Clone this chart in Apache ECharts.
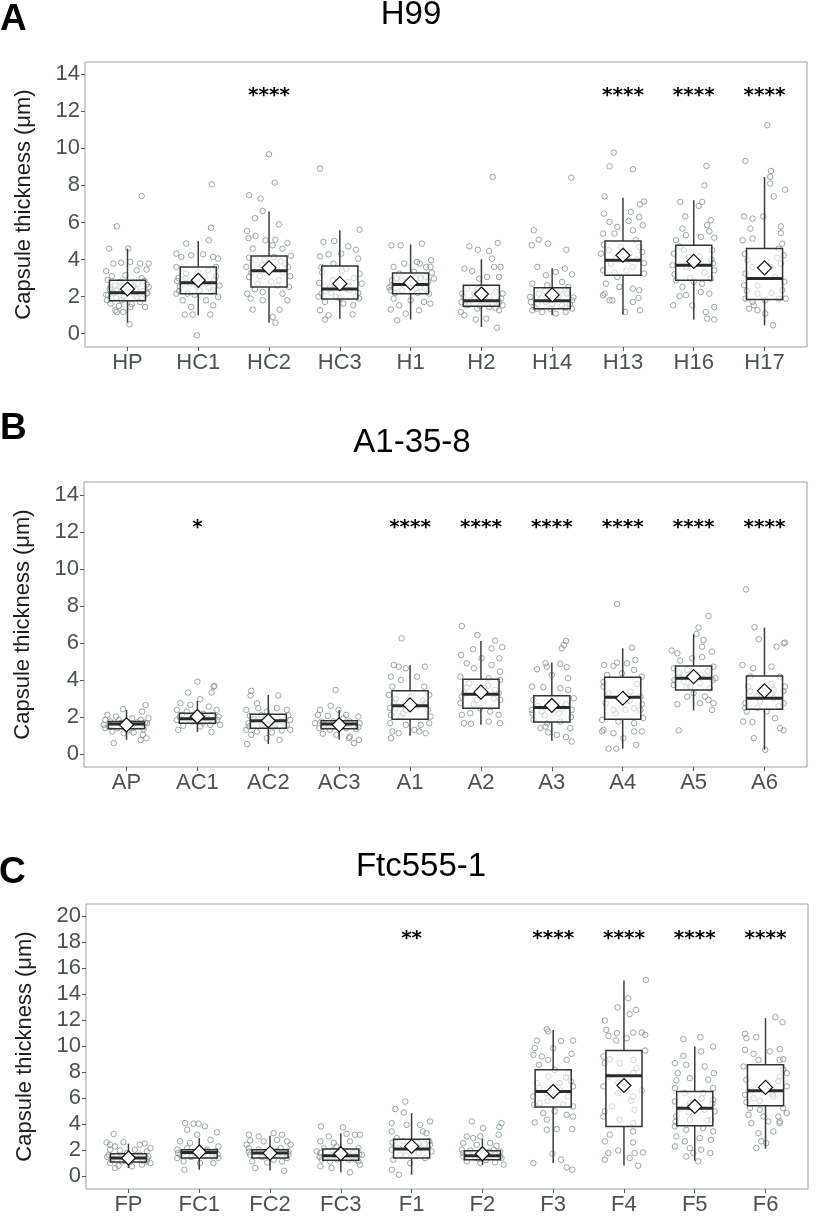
<!DOCTYPE html>
<html>
<head>
<meta charset="utf-8">
<script src="https://cdn.jsdelivr.net/npm/echarts@6/dist/echarts.min.js"></script>
<style>html,body{margin:0;padding:0;background:#fff}#c{width:816px;height:1222px}</style>
</head>
<body>
<div id="c"></div>
<script>
// ---------------- Panel A: H99 ----------------
const catsA = ['HP','HC1','HC2','HC3','H1','H2','H14','H13','H16','H17'];
// [lower whisker, Q1, median, Q3, upper whisker]
const statsA = [
  [0.60,1.78,2.21,2.88,4.59],[0.99,2.16,2.75,3.60,5.00],[0.59,2.52,3.40,4.19,6.59],
  [0.81,1.87,2.41,3.65,5.58],[0.76,2.16,2.65,3.28,4.82],[0.36,1.48,1.78,2.61,4.01],
  [0.99,1.35,1.78,2.48,3.53],[1.04,3.15,3.96,5.00,7.34],[0.76,2.88,3.69,4.77,7.20],
  [0.45,1.85,2.97,4.59,8.46]];
const meansA = [2.41,2.88,3.55,2.70,2.74,2.14,2.09,4.23,3.90,3.55];
const starsA = ['','','****','','','','','****','****','****'];
const starLevelA = 13.0;
const yTicksA = [0,2,4,6,8,10,12,14];
// jittered observations per group: [horizontal jitter (category units), value]
const pointsA = [
 [[.2,7.43],[-.15,5.79],[-.26,4.59],[.01,4.59],[-.2,3.78],[-.3,3.38],[-.09,3.83],[.04,3.87],[.18,3.78],[.3,3.78],[-.22,3.1],[.13,3.42],[.27,3.46],[-.27,2.07],[-.24,1.62],[-.17,1.26],[-.06,1.17],[.04,1.44],[.18,1.71],[.27,2.16],[.25,1.44],[.03,.5],[-.15,2.34],[.08,2.52],[-.1,2.79],[.15,2.7],[-.24,2.52],[.3,2.52],[-.08,1.8],[.13,1.98],[-.29,1.8],[-.03,3.15],[-.15,1.17],[-.2,2.2],[.22,2.3],[-.05,2.0],[.1,2.1],[-.28,2.9],[.2,3.0],[-.12,1.5],[.06,1.6],[-.18,2.6],[.24,2.85],[-.25,2.4],[.28,2.2],[-.1,2.45],[.05,2.7],[.2,1.9],[-.3,2.1],[.12,2.4],[-.16,1.95],[.27,2.65],[-.04,2.3]],
 [[.19,8.06],[.18,5.72],[.15,5.04],[-.17,4.86],[-.02,-.09],[-.08,1.03],[.17,1.03],[-.19,1.03],[-.31,4.32],[-.24,4.14],[-.1,4.23],[.07,4.28],[.21,4.14],[.28,4.05],[-.31,3.6],[-.17,3.24],[.14,3.42],[.25,3.6],[-.26,2.52],[-.15,2.16],[-.05,2.88],[.07,2.7],[.21,2.34],[-.22,1.8],[-.1,1.44],[.11,1.8],[.21,1.53],[.28,1.98],[-.31,2.16],[.02,2.34],[-.12,2.7],[-.28,3.0],[.25,3.1],[0,3.3],[-.05,2.1],[.15,2.5],[-.27,2.3],[.23,2.9],[-.18,3.0],[.09,3.1],[-.02,2.55],[.3,2.6],[-.3,2.85],[.18,2.25]],
 [[0,9.68],[.08,8.15],[-.28,7.47],[-.12,7.29],[-.09,6.62],[-.2,6.23],[.14,5.9],[-.31,5.54],[-.19,5.27],[-.29,5.16],[-.05,5.04],[.09,5.07],[.26,4.89],[-.23,4.59],[.05,4.77],[.19,4.59],[-.32,3.6],[-.19,3.96],[.23,3.78],[-.28,3.06],[-.16,2.7],[.14,2.88],[.28,2.52],[-.31,2.16],[-.09,2.25],[.19,2.16],[-.26,1.89],[.26,1.8],[-.09,1.8],[-.23,1.3],[.15,1.3],[.05,.9],[.09,.59],[-.05,3.42],[.07,4.14],[.2,3.3],[-.1,3.7],[.12,2.6],[-.2,2.4],[.3,3.1],[-.25,3.3],[.27,3.6],[-.13,3.1],[.03,2.8],[.16,3.9],[-.28,4.1],[.31,4.2],[-.06,4.0]],
 [[-.28,8.91],[.28,5.61],[-.23,4.95],[-.08,5.0],[.12,4.71],[.23,4.53],[-.28,4.17],[-.16,4.28],[.02,4.32],[.26,4.05],[-.09,3.78],[-.26,3.6],[.09,3.51],[.28,3.24],[-.29,2.74],[-.14,2.52],[.14,2.34],[.31,2.7],[-.26,2.16],[-.05,1.98],[.23,2.02],[-.21,1.71],[.05,1.62],[.19,1.53],[-.28,1.26],[-.16,.99],[-.21,.76],[.18,1.04],[.09,2.43],[-.1,2.9],[.2,3.0],[-.2,2.3],[0,1.9],[-.3,2.0],[.26,2.2],[-.12,2.2],[.12,2.8],[-.25,3.3],[.03,3.4],[.27,1.9]],
 [[-.27,4.77],[-.14,4.77],[-.19,.72],[-.28,1.3],[.16,4.86],[.29,3.96],[.22,3.6],[.13,3.78],[-.24,3.6],[-.09,3.78],[.09,3.87],[-.26,2.88],[-.12,2.34],[.14,2.52],[.26,2.16],[-.24,1.89],[0,1.8],[.19,1.71],[-.16,1.53],[.28,1.62],[.05,3.33],[-.16,3.24],[.21,3.06],[.28,3.6],[-.28,2.34],[-.07,1.08],[.12,1.26],[-.05,2.79],[.33,2.97],[-.2,3.0],[.1,2.2],[-.02,2.6],[.25,2.8],[-.3,2.5],[-.27,2.6],[.07,3.0],[.2,2.45],[-.13,2.85],[.3,3.3],[-.22,2.2],[.02,2.3],[.14,3.0]],
 [[.16,8.46],[-.17,4.71],[-.05,4.53],[.11,4.46],[.23,4.89],[-.24,3.51],[-.13,3.38],[.15,4.05],[.27,3.6],[.18,3.6],[-.03,2.97],[-.2,2.43],[.08,3.06],[.25,3.06],[-.27,2.16],[-.1,2.16],[.2,2.25],[.3,2.16],[-.29,1.17],[-.22,1.53],[-.06,1.35],[.11,1.44],[.25,1.26],[.3,1.53],[-.08,.76],[.07,.81],[.22,.32],[-.15,1.8],[.04,1.71],[-.24,.99],[-.1,1.9],[.15,1.6],[-.28,1.7],[.28,1.9],[-.25,2.0],[.25,1.7],[-.05,2.4],[.12,2.0],[-.18,1.55],[.2,1.4],[-.02,1.5]],
 [[.27,8.42],[-.26,5.58],[-.19,5.07],[-.06,4.86],[-.29,4.77],[.2,4.53],[-.21,3.6],[.05,3.33],[.18,3.51],[.28,3.2],[-.09,3.15],[-.28,2.7],[-.07,2.61],[.14,2.79],[.23,2.52],[-.31,1.98],[-.19,2.16],[.21,2.16],[.28,1.8],[-.28,1.26],[-.14,1.17],[.05,1.08],[.19,1.17],[.28,1.35],[-.21,1.62],[.14,1.53],[-.02,1.35],[-.09,1.71],[.09,1.98],[-.25,1.45],[.25,1.6],[0,1.6],[-.15,1.9],[-.3,1.7],[.3,1.95],[-.1,2.3],[.12,2.35],[-.22,1.35],[.18,1.4],[.05,1.9]],
 [[-.13,9.77],[-.19,9.03],[.14,8.87],[-.26,7.41],[.3,7.13],[.24,6.98],[-.27,6.48],[.11,6.57],[.23,6.3],[-.19,6.03],[-.08,5.76],[.08,6.08],[-.28,5.4],[.28,5.85],[-.12,5.4],[.14,5.58],[-.31,4.32],[.23,4.68],[-.17,3.78],[.14,3.6],[-.28,3.42],[.3,3.24],[-.08,3.06],[-.24,2.7],[-.05,2.52],[.14,2.43],[.23,2.34],[-.26,2.16],[-.15,1.8],[.14,1.71],[-.19,1.8],[.22,1.93],[.03,1.17],[.24,1.26],[-.28,2.07],[.09,4.32],[-.1,4.05],[.18,5.04],[-.03,4.68],[-.27,4.8],[.27,4.4],[-.12,3.3],[.05,3.4],[.2,4.0],[-.2,4.5],[.3,3.8]],
 [[.18,9.05],[.15,8.0],[-.19,7.11],[.07,6.89],[.12,7.11],[-.12,6.33],[.24,6.12],[.19,5.85],[.22,5.52],[-.16,5.67],[-.25,5.04],[.1,5.22],[.29,5.18],[-.11,5.31],[-.28,4.32],[-.14,4.5],[.26,4.5],[-.3,3.69],[-.11,3.6],[.29,3.42],[-.25,2.88],[-.16,2.52],[.12,2.7],[.24,2.97],[-.2,2.02],[-.11,2.07],[.1,2.25],[.22,2.16],[-.29,1.53],[-.02,1.53],[.29,1.44],[.17,1.17],[.19,.81],[.29,.76],[-.07,4.14],[.08,4.14],[-.27,3.2],[.27,3.8],[-.05,3.0],[.15,3.3],[-.2,4.7],[.25,4.0],[0,2.8]],
 [[.04,11.25],[-.27,9.32],[.09,8.78],[.08,8.46],[.08,8.1],[.13,7.41],[.29,7.77],[-.29,6.33],[-.17,6.21],[-.02,6.33],[-.2,5.67],[.23,5.79],[.23,5.43],[-.31,5.04],[-.17,5.13],[.25,4.86],[.2,4.59],[.27,4.23],[-.24,3.96],[.08,3.6],[-.27,3.24],[.15,3.06],[-.29,2.61],[-.1,2.16],[.25,2.34],[-.27,1.89],[-.17,1.71],[.01,1.8],[.2,1.89],[.3,1.89],[-.22,1.35],[-.1,1.26],[.01,1.08],[.12,.45],[-.15,1.53],[.23,3.78],[-.17,3.6],[-.28,4.3],[.28,2.8],[-.1,2.6],[.1,2.2],[-.25,2.3],[.18,4.1],[.03,3.9]]
];

// ---------------- Panel B: A1-35-8 ----------------
const catsB = ['AP','AC1','AC2','AC3','A1','A2','A3','A4','A5','A6'];
const statsB = [
  [0.77,1.37,1.62,1.76,2.39],[1.19,1.67,1.91,2.21,2.88],[0.54,1.40,1.80,2.16,3.20],
  [0.77,1.37,1.62,1.80,2.39],[0.99,1.89,2.61,3.42,4.82],[1.58,2.48,3.24,4.05,6.12],
  [0.72,1.73,2.52,3.15,4.95],[0.29,1.89,3.08,4.16,5.72],[2.36,3.47,4.10,4.77,6.48],
  [0.23,2.43,3.02,4.23,6.84]];
const meansB = [1.58,2.03,1.80,1.58,2.66,3.35,2.63,3.02,4.19,3.42];
const starsB = ['','*','','','****','****','****','****','****','****'];
const starLevelB = 12.42;
const yTicksB = [0,2,4,6,8,10,12,14];
const pointsB = [
 [[-.18,.59],[-.3,1.4],[-.05,2.43],[.27,2.65],[.22,2.3],[-.27,2.12],[-.15,2.03],[.08,1.94],[.2,1.85],[-.23,1.76],[-.08,1.67],[.15,1.71],[.29,1.67],[-.25,1.49],[-.13,1.4],[.08,1.4],[.24,1.35],[-.2,1.22],[-.04,1.13],[.1,1.17],[.23,1.04],[.2,.77],[.28,.86],[-.32,1.58],[.31,1.94],[-.11,1.85],[.01,1.28],[-.22,1.55],[.18,1.55],[-.05,1.7],[.1,1.6],[.26,1.7],[-.3,1.85],[.02,1.5]],
 [[0,3.92],[.23,3.65],[.24,3.69],[.2,3.33],[-.13,3.33],[.04,2.97],[-.24,2.75],[-.1,2.66],[.16,2.57],[-.29,2.39],[-.15,2.3],[.27,2.39],[-.22,2.12],[.08,2.18],[.3,2.03],[-.29,1.85],[-.08,1.76],[.23,1.76],[-.2,1.53],[.04,1.49],[.18,1.58],[-.27,1.31],[.2,1.19],[-.03,1.94],[.13,1.94],[.32,1.58],[-.25,2.0],[.2,2.1],[-.12,1.85],[.08,1.7],[.28,1.85],[-.02,2.2]],
 [[-.24,3.42],[-.25,3.17],[.14,3.17],[-.16,2.75],[-.31,2.39],[-.14,2.48],[.12,2.48],[.26,2.39],[-.26,2.07],[-.02,2.3],[.19,2.03],[.31,1.85],[-.28,1.67],[-.09,1.58],[.09,1.49],[.26,1.58],[-.31,1.31],[-.16,1.22],[.05,1.17],[.19,1.28],[.31,1.31],[-.24,1.04],[-.02,.86],[.16,.77],[-.3,.54],[-.05,1.94],[-.21,1.85],[-.2,1.9],[.2,1.75],[-.1,2.1],[.1,1.6],[.28,2.1],[-.27,1.5]],
 [[-.05,3.47],[-.12,2.61],[-.27,2.39],[-.01,2.39],[-.3,2.12],[-.16,2.07],[.1,2.12],[.27,2.03],[-.25,1.76],[-.08,1.76],[.15,1.76],[.29,1.67],[-.28,1.4],[-.13,1.31],[.1,1.4],[.24,1.35],[-.23,1.1],[-.04,1.04],[.15,.95],[.28,.77],[.14,.86],[.21,.59],[-.2,1.58],[.06,1.94],[-.34,1.67],[-.22,1.5],[.2,1.55],[0,1.5],[-.1,1.65],[.27,1.45],[.12,1.65]],
 [[-.12,6.26],[-.23,4.82],[-.16,4.73],[-.06,4.64],[.21,4.73],[-.27,4.19],[-.13,4.01],[.1,4.19],[.2,3.65],[-.25,3.65],[-.3,3.2],[.27,3.2],[-.23,2.75],[-.06,2.39],[.22,2.75],[-.27,2.12],[-.13,2.03],[.29,2.03],[-.28,1.67],[-.06,1.58],[.15,1.58],[.27,1.67],[-.25,1.22],[-.16,1.13],[.13,1.22],[.22,1.13],[-.27,.86],[.06,1.31],[.01,3.11],[-.2,2.48],[-.2,3.0],[.18,2.9],[-.1,2.2],[.1,2.6],[.25,2.4],[-.28,2.5]],
 [[-.27,6.93],[-.05,6.44],[.2,6.14],[.3,5.78],[-.11,5.67],[.15,5.72],[-.28,5.36],[.01,5.18],[-.2,4.91],[.15,4.82],[.26,5.18],[-.1,4.64],[.27,4.46],[-.29,4.19],[-.17,3.83],[.11,4.1],[.27,4.01],[-.24,3.29],[.2,3.47],[-.29,2.75],[-.06,2.93],[.27,2.93],[-.27,2.12],[-.15,2.21],[.13,2.3],[.25,2.12],[-.24,1.67],[-.14,1.64],[.11,1.76],[.27,1.67],[-.01,2.48],[.04,3.56],[-.2,3.6],[.18,3.0],[-.1,2.7],[.1,3.7],[.25,3.3],[-.27,3.1]],
 [[.2,6.12],[.14,5.72],[.17,5.9],[-.21,4.59],[-.09,4.91],[-.07,4.73],[.12,4.88],[.21,4.7],[0,4.28],[.23,4.1],[-.28,3.65],[-.12,3.62],[.12,3.56],[.23,3.47],[-.26,2.93],[.31,3.02],[-.28,2.39],[-.14,2.3],[.16,2.48],[.28,2.39],[-.26,1.85],[-.07,1.67],[.12,1.76],[.26,1.4],[-.16,1.4],[-.05,1.17],[.07,1.04],[.2,.92],[.28,.68],[-.09,1.49],[.02,2.75],[-.2,2.6],[.2,2.7],[-.1,2.1],[.1,2.2],[.27,2.0],[-.27,2.2]],
 [[-.08,8.12],[.13,5.76],[-.26,4.82],[-.08,4.95],[.06,4.91],[.18,5.09],[-.13,4.77],[-.22,4.28],[-.01,4.37],[.27,4.19],[.16,4.55],[-.27,3.65],[.11,3.38],[.25,3.11],[-.24,2.75],[-.13,2.39],[.16,2.48],[.25,2.39],[-.29,1.85],[-.06,1.76],[.16,1.67],[.29,1.94],[-.27,1.31],[-.13,1.13],[.16,1.22],[.27,1.22],[-.29,1.22],[.01,.86],[.19,.5],[-.2,.29],[-.09,.29],[.04,2.39],[-.2,3.3],[.2,3.8],[-.1,2.2],[.1,2.9],[.27,2.7],[-.27,3.9]],
 [[.21,7.47],[.07,6.84],[.04,6.5],[.14,6.17],[.12,5.81],[-.31,5.6],[-.23,5.45],[.26,5.54],[-.02,5.18],[.12,5.24],[-.19,5.06],[-.28,4.64],[-.09,4.55],[.28,4.73],[-.21,4.19],[.19,4.19],[.31,4.1],[-.28,3.74],[-.05,3.65],[.09,3.83],[.23,3.56],[-.09,3.11],[.16,3.11],[.28,2.75],[-.23,2.7],[.09,2.75],[.21,2.93],[.26,2.39],[-.21,1.28],[-.14,3.92],[0,3.29],[-.2,4.4],[.2,4.5],[-.1,3.6],[.1,4.3],[.27,4.0],[-.27,4.0]],
 [[-.26,8.91],[-.14,6.86],[-.08,6.21],[.17,5.81],[.29,6.03],[.27,5.99],[-.31,4.82],[-.16,4.64],[.1,4.73],[.22,4.19],[-.2,4.19],[-.23,3.65],[.13,3.47],[.29,3.65],[-.27,2.75],[-.06,2.84],[.27,2.75],[-.25,2.3],[.03,2.3],[.15,1.94],[-.3,1.76],[-.17,1.73],[.22,1.4],[.27,1.28],[-.15,.86],[.01,.23],[-.11,3.11],[.13,3.02],[-.2,3.4],[.2,2.6],[-.1,2.5],[.1,3.8],[.27,3.4],[-.27,2.5]]
];

// ---------------- Panel C: Ftc555-1 ----------------
const catsC = ['FP','FC1','FC2','FC3','F1','F2','F3','F4','F5','F6'];
const statsC = [
  [0.64,1.10,1.41,1.74,2.51],[0.51,1.41,1.84,2.05,2.94],[0.46,1.41,1.79,2.05,3.12],
  [0.31,1.23,1.59,2.10,3.32],[0.13,1.41,2.10,2.86,4.86],[0.90,1.28,1.59,1.97,2.89],
  [1.02,5.32,6.52,8.18,11.25],[0.84,3.84,7.72,9.67,15.04],[1.20,3.89,5.24,6.52,9.97],
  [2.12,5.42,6.57,8.57,12.15]];
const meansC = [1.41,1.87,1.79,1.74,2.30,1.74,6.52,6.98,5.37,6.83];
const starsC = ['','','','','**','','****','****','****','****'];
const starLevelC = 18.47;
const yTicksC = [0,2,4,6,8,10,12,14,16,18,20];
const pointsC = [
 [[-.21,3.25],[-.07,2.63],[-.31,2.61],[-.26,2.43],[-.19,2.3],[.16,2.43],[.23,2.51],[.31,2.17],[-.26,2.05],[-.12,1.99],[.09,2.05],[.26,1.92],[-.28,1.66],[-.16,1.59],[.16,1.66],[.28,1.53],[-.23,1.28],[-.09,1.15],[.12,1.28],[.26,1.15],[-.26,1.02],[-.14,.82],[.05,.77],[.19,.9],[.31,1.02],[-.19,.64],[-.02,1.79],[-.22,1.4],[.18,1.45],[-.05,1.2],[.1,1.6],[.26,1.35],[-.3,1.5],[.02,1.1],[-.12,1.45],[.2,1.2]],
 [[-.2,4.09],[-.08,4.04],[-.01,4.04],[-.17,3.58],[.08,3.84],[.25,3.38],[-.03,3.2],[-.27,2.69],[-.13,2.56],[.16,2.81],[.27,2.3],[-.31,2.05],[-.17,2.17],[.11,2.05],[.23,1.92],[-.27,1.66],[-.1,1.53],[.18,1.53],[.27,1.41],[-.22,1.15],[.01,1.02],[.2,1.02],[-.21,.51],[-.31,1.41],[.06,1.79],[-.22,1.85],[.18,1.75],[-.05,1.6],[.1,1.95],[.26,1.7],[-.3,1.8],[.02,2.0],[-.12,1.5]],
 [[-.3,3.2],[-.16,3.07],[.05,3.32],[.17,3.2],[-.28,2.76],[-.09,2.69],[.1,2.81],[.24,2.69],[.29,2.43],[-.3,2.17],[-.16,2.05],[.15,2.17],[.26,1.92],[-.28,1.66],[-.09,1.53],[.1,1.66],[.24,1.41],[-.25,1.15],[-.04,1.07],[.17,1.15],[-.21,.64],[.2,.43],[-.33,2.43],[.05,1.28],[-.22,1.85],[.18,1.75],[-.05,1.6],[.1,1.95],[.26,1.7],[-.3,1.9],[.02,2.0],[-.12,1.5]],
 [[-.28,3.84],[.03,3.76],[-.17,3.07],[.08,3.27],[.2,3.2],[.27,3.2],[-.29,2.69],[-.1,2.56],[.13,2.69],[-.24,2.17],[-.06,2.3],[.25,2.17],[-.29,1.79],[-.1,1.66],[.18,1.79],[.3,1.66],[-.27,1.28],[-.15,1.15],[.11,1.28],[.25,1.15],[-.29,.77],[-.13,.64],[.13,.31],[.27,.9],[-.01,2.05],[-.34,1.92],[-.22,1.45],[.18,1.55],[-.05,1.3],[.1,1.95],[.26,1.7],[-.3,1.5],[.02,1.8],[-.12,2.0],[.2,1.3]],
 [[-.09,5.75],[-.23,5.17],[-.11,4.91],[-.28,4.09],[-.07,3.96],[.12,3.96],[.26,4.22],[.16,3.45],[.21,3.32],[-.28,3.45],[-.21,2.94],[-.12,2.69],[.09,2.56],[-.28,2.05],[.28,1.92],[-.16,1.66],[.19,1.41],[-.26,1.28],[-.28,.51],[-.18,.13],[-.02,1.02],[.26,2.43],[.07,2.3],[-.2,2.2],[.18,2.5],[-.08,1.6],[.1,1.8],[.25,2.7],[-.27,2.6]],
 [[-.15,4.22],[.01,3.71],[.27,4.09],[.24,3.79],[.23,3.2],[-.22,3.07],[-.13,2.94],[-.03,3.07],[-.27,2.56],[-.08,2.43],[.11,2.56],[.2,2.35],[-.29,2.05],[-.17,1.99],[.16,2.05],[.25,1.92],[-.27,1.53],[-.1,1.41],[.08,1.48],[.27,1.41],[-.22,1.15],[-.03,1.02],[.18,1.07],[.3,.9],[.04,1.84],[-.2,1.7],[.18,1.7],[-.05,1.35],[.1,1.9],[.25,1.55],[-.27,1.8],[.05,1.25]],
 [[-.09,11.3],[-.07,11.13],[-.23,10.43],[.11,10.41],[.28,10.43],[-.26,9.85],[-.28,9.34],[-.16,9.21],[-.07,8.95],[.26,9.41],[.19,8.95],[-.2,8.57],[.21,7.93],[-.07,7.67],[-.23,7.16],[.09,7.16],[.28,6.91],[-.28,6.14],[-.09,6.39],[.21,6.14],[-.19,5.63],[.14,5.5],[.28,5.37],[-.14,4.86],[.02,4.99],[.19,4.73],[-.26,4.14],[-.09,4.35],[.28,4.6],[-.09,3.58],[.05,3.63],[.27,3.63],[-.01,1.74],[-.28,1.02],[.11,1.28],[.19,.69],[.27,.51],[0,9.85],[.02,8.18],[-.2,6.8],[.18,7.6],[-.08,5.8],[.1,6.6],[.25,7.3],[-.27,5.5]],
 [[.31,15.09],[.06,13.68],[.17,12.79],[.08,12.46],[-.09,12.97],[-.27,11.97],[-.25,11.25],[-.1,11.0],[-.11,10.43],[.13,11.05],[.25,11.05],[.3,10.87],[-.22,10.79],[.04,10.61],[-.29,9.21],[.3,9.67],[-.27,8.7],[-.06,8.7],[.13,8.95],[-.22,7.67],[.13,7.93],[-.29,6.91],[-.08,6.39],[.13,6.14],[-.17,5.37],[.15,5.12],[-.29,4.6],[-.06,4.35],[.13,4.09],[-.2,3.2],[.13,3.45],[-.27,2.69],[.13,2.61],[-.22,1.79],[-.08,1.99],[.15,1.79],[.27,1.84],[-.27,1.28],[.08,1.41],[.2,.82],[-.2,9.0],[.18,8.3],[-.08,7.2],[.1,5.8],[.25,6.6],[-.27,5.0]],
 [[.26,9.97],[-.16,10.54],[.08,10.69],[.09,9.59],[-.16,9.26],[-.28,8.7],[-.12,8.57],[.14,8.44],[.27,7.93],[-.24,7.93],[-.26,7.37],[-.07,7.54],[.19,7.42],[.26,6.78],[-.28,6.78],[-.14,6.39],[.12,6.39],[.26,5.88],[-.28,5.75],[-.07,5.63],[.14,5.12],[.28,4.99],[-.26,4.6],[-.07,4.35],[.23,4.35],[-.28,3.84],[-.12,3.58],[.12,3.71],[.26,3.45],[-.26,3.07],[-.14,2.69],[.07,2.94],[.23,2.81],[-.28,2.3],[-.07,2.17],[.09,2.05],[-.02,1.79],[.22,1.79],[.05,1.15],[-.12,1.53],[-.2,5.2],[.18,4.3],[-.08,4.9],[.1,6.0],[.25,5.6],[-.27,4.2]],
 [[.14,12.23],[.24,11.84],[-.29,10.95],[-.27,10.61],[-.13,10.69],[-.29,9.72],[-.17,9.41],[.2,9.77],[-.1,8.95],[.06,9.59],[.2,8.95],[.25,9.0],[-.31,8.44],[.3,7.93],[.2,7.67],[-.27,7.42],[.01,7.16],[.3,6.91],[-.29,6.27],[-.17,6.01],[.11,6.14],[-.22,5.24],[-.08,5.12],[.25,5.24],[-.24,4.73],[-.03,4.6],[.18,4.6],[.3,4.86],[-.2,4.09],[.04,4.22],[.2,4.22],[-.1,3.32],[.11,3.45],[-.06,2.69],[-.13,2.17],[.01,2.56],[.2,4.09],[-.2,6.6],[.18,7.3],[-.08,5.8],[.1,6.3],[.25,8.2],[-.27,5.7]]
];

// ---------------- rendering ----------------
const FONT = '"Liberation Sans", Arial, Helvetica, sans-serif';
const AXIS_TXT = '#4b5252';
const BORDER = '#93a4a4';
const PT = '#7f9292';

function boxItem(params, api) {
  const i = api.value(0), lo = api.value(1), q1 = api.value(2), md = api.value(3),
        q3 = api.value(4), hi = api.value(5), mn = api.value(6);
  const hw = 0.255;
  const tl = api.coord([i - hw, q3]), br = api.coord([i + hw, q1]);
  const top = api.coord([i, hi]), cq3 = api.coord([i, q3]), cq1 = api.coord([i, q1]), bot = api.coord([i, lo]);
  const ml = api.coord([i - hw, md]), mr = api.coord([i + hw, md]);
  const c = api.coord([i, mn]);
  const d = 7;
  return {type: 'group', children: [
    {type: 'line', shape: {x1: top[0], y1: top[1], x2: cq3[0], y2: cq3[1]}, style: {stroke: '#3d3d3d', lineWidth: 1.5}},
    {type: 'line', shape: {x1: cq1[0], y1: cq1[1], x2: bot[0], y2: bot[1]}, style: {stroke: '#3d3d3d', lineWidth: 1.5}},
    {type: 'rect', shape: {x: tl[0], y: tl[1], width: br[0] - tl[0], height: br[1] - tl[1]},
      style: {fill: 'rgba(255,255,255,0.55)', stroke: '#333', lineWidth: 1.5}},
    {type: 'line', shape: {x1: ml[0], y1: ml[1], x2: mr[0], y2: mr[1]}, style: {stroke: '#2b2b2b', lineWidth: 3}},
    {type: 'polygon', shape: {points: [[c[0], c[1] - d], [c[0] + d, c[1]], [c[0], c[1] + d], [c[0] - d, c[1]]]},
      style: {fill: '#fff', stroke: '#111', lineWidth: 1.2}}
  ]};
}

const grids = [], xAxes = [], yAxes = [], series = [];
function addPanel(k, cats, stats, means, stars, starLevel, pts, ticks, yMin, yMax, g) {
  grids.push(Object.assign({show: true, borderColor: BORDER, borderWidth: 1, backgroundColor: 'transparent'}, g));
  const idx = cats.map((c, i) => i);
  xAxes.push({type: 'value', gridIndex: k, min: -0.6, max: 9.6,
    axisLine: {show: false, onZero: false}, splitLine: {show: false},
    axisTick: {show: true, customValues: idx, length: 4, lineStyle: {color: '#555', width: 1}},
    axisLabel: {customValues: idx, formatter: v => cats[Math.round(v)] || '', color: AXIS_TXT,
      fontSize: 22, fontFamily: FONT, margin: 5}});
  yAxes.push({type: 'value', gridIndex: k, min: yMin, max: yMax,
    axisLine: {show: false, onZero: false}, splitLine: {show: false},
    axisTick: {show: true, customValues: ticks, length: 4, lineStyle: {color: '#555', width: 1}},
    axisLabel: {customValues: ticks, color: AXIS_TXT, fontSize: 22, fontFamily: FONT, margin: 5},
    name: 'Capsule thickness (μm)', nameLocation: 'middle', nameGap: 50,
    nameTextStyle: {fontSize: 22, color: '#1e1e1e', fontFamily: FONT}});
  const pdata = [];
  pts.forEach((grp, i) => grp.forEach(p => pdata.push([i + p[0], p[1]])));
  series.push({type: 'scatter', xAxisIndex: k, yAxisIndex: k, data: pdata, symbol: 'circle', symbolSize: 5.5,
    itemStyle: {color: 'rgba(255,255,255,0)', borderColor: PT, borderWidth: 1}, silent: true, z: 2});
  series.push({type: 'custom', xAxisIndex: k, yAxisIndex: k, z: 3, silent: true,
    data: stats.map((s, i) => [i, s[0], s[1], s[2], s[3], s[4], means[i]]), renderItem: boxItem});
  series.push({type: 'custom', xAxisIndex: k, yAxisIndex: k, z: 4, silent: true,
    data: stars.map((s, i) => [i, starLevel]),
    renderItem: (params, api) => {
      const p = api.coord([api.value(0), api.value(1)]);
      return {type: 'text', x: p[0], y: p[1] + 3, style: {text: stars[params.dataIndex], textAlign: 'center',
        textVerticalAlign: 'middle', font: 'bold 20px "DejaVu Sans"', fill: '#000'}};
    }});
}

addPanel(0, catsA, statsA, meansA, starsA, starLevelA, pointsA, yTicksA, -0.72, 14.66,
  {left: 85, top: 62, width: 722, height: 285});
addPanel(1, catsB, statsB, meansB, starsB, starLevelB, pointsB, yTicksB, -0.70, 14.72,
  {left: 84, top: 482, width: 723, height: 285});
addPanel(2, catsC, statsC, meansC, starsC, starLevelC, pointsC, yTicksC, -0.97, 20.92,
  {left: 86, top: 904, width: 722, height: 285});

function txt(t, x, y, size, weight, align) {
  return {type: 'text', x: x, y: y, style: {text: t, font: weight + ' ' + size + 'px ' + FONT,
    fill: '#000', textAlign: align, textVerticalAlign: 'top'}};
}

const chart = echarts.init(document.getElementById('c'), null, {renderer: 'canvas'});
chart.setOption({
  animation: false,
  backgroundColor: '#fff',
  grid: grids, xAxis: xAxes, yAxis: yAxes, series: series,
  graphic: [
    txt('A', 0, 1, 37, 'bold', 'left'),
    txt('H99', 411, -2, 33, 'normal', 'center'),
    txt('B', 0, 410, 37, 'bold', 'left'),
    txt('A1-35-8', 412, 426, 33, 'normal', 'center'),
    txt('C', -1, 854, 37, 'bold', 'left'),
    txt('Ftc555-1', 421, 850, 33, 'normal', 'center')
  ]
});
</script>
</body>
</html>
